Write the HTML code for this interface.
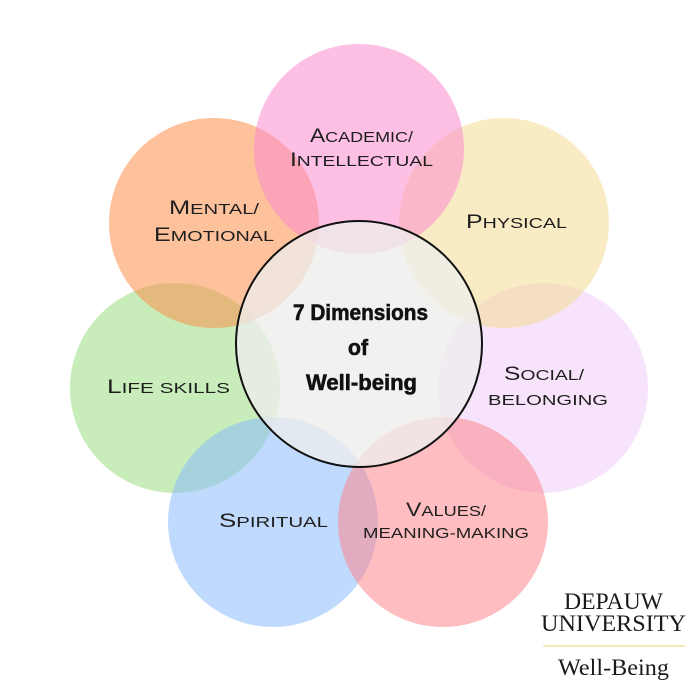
<!DOCTYPE html>
<html>
<head>
<meta charset="utf-8">
<style>
  html, body { margin:0; padding:0; background:#ffffff; }
  body { width:700px; height:700px; overflow:hidden; }
  svg { display:block; }
  .lbl { font-family:"Liberation Sans", sans-serif; fill:#1e1e1e; }
  .ctr { font-family:"Liberation Sans", sans-serif; font-weight:bold; fill:#111; stroke:#111; stroke-width:0.6; }
  .logo { font-family:"Liberation Serif", serif; fill:#1a1a1a; }
</style>
</head>
<body>
<svg width="700" height="700" viewBox="0 0 700 700" xmlns="http://www.w3.org/2000/svg">
  <rect width="700" height="700" fill="#ffffff"/>
  <!-- outer circles -->
  <circle cx="175" cy="388" r="105" fill="rgb(155,222,130)" fill-opacity="0.55"/>
  <circle cx="543" cy="388" r="105" fill="rgb(240,206,250)" fill-opacity="0.55"/>
  <circle cx="504" cy="223" r="105" fill="rgb(244,219,148)" fill-opacity="0.55"/>
  <circle cx="214" cy="223" r="105" fill="rgb(251,142,75)" fill-opacity="0.55"/>
  <circle cx="359" cy="149" r="105" fill="rgb(251,140,206)" fill-opacity="0.55"/>
  <circle cx="273" cy="522" r="105" fill="rgb(139,188,251)" fill-opacity="0.55"/>
  <circle cx="443" cy="522" r="105" fill="rgb(253,135,140)" fill-opacity="0.55"/>
  <!-- center circle -->
  <circle cx="359" cy="344" r="123" fill="rgb(237,237,236)" fill-opacity="0.78" stroke="#111" stroke-width="2"/>

  <!-- labels -->
  <text class="lbl" x="310" y="142" textLength="103" lengthAdjust="spacingAndGlyphs"><tspan font-size="19">A</tspan><tspan font-size="15">CADEMIC/</tspan></text>
  <text class="lbl" x="290" y="166" textLength="143" lengthAdjust="spacingAndGlyphs"><tspan font-size="19">I</tspan><tspan font-size="15">NTELLECTUAL</tspan></text>

  <text class="lbl" x="169" y="214" textLength="90" lengthAdjust="spacingAndGlyphs"><tspan font-size="19">M</tspan><tspan font-size="15">ENTAL/</tspan></text>
  <text class="lbl" x="154" y="241" textLength="120" lengthAdjust="spacingAndGlyphs"><tspan font-size="19">E</tspan><tspan font-size="15">MOTIONAL</tspan></text>

  <text class="lbl" x="466" y="228" textLength="101" lengthAdjust="spacingAndGlyphs"><tspan font-size="19">P</tspan><tspan font-size="15">HYSICAL</tspan></text>

  <text class="lbl" x="107" y="393" textLength="123" lengthAdjust="spacingAndGlyphs"><tspan font-size="19">L</tspan><tspan font-size="15">IFE SKILLS</tspan></text>

  <text class="lbl" x="504" y="380" textLength="80" lengthAdjust="spacingAndGlyphs"><tspan font-size="19">S</tspan><tspan font-size="15">OCIAL/</tspan></text>
  <text class="lbl" x="488" y="405" textLength="120" lengthAdjust="spacingAndGlyphs"><tspan font-size="15">BELONGING</tspan></text>

  <text class="lbl" x="219" y="527" textLength="109" lengthAdjust="spacingAndGlyphs"><tspan font-size="19">S</tspan><tspan font-size="15">PIRITUAL</tspan></text>

  <text class="lbl" x="406" y="516" textLength="80" lengthAdjust="spacingAndGlyphs"><tspan font-size="19">V</tspan><tspan font-size="15">ALUES/</tspan></text>
  <text class="lbl" x="363" y="538" textLength="166" lengthAdjust="spacingAndGlyphs"><tspan font-size="15">MEANING-MAKING</tspan></text>

  <!-- center text -->
  <text class="ctr" x="293" y="320" font-size="22" textLength="135" lengthAdjust="spacingAndGlyphs">7 Dimensions</text>
  <text class="ctr" x="348" y="355" font-size="22" textLength="20" lengthAdjust="spacingAndGlyphs">of</text>
  <text class="ctr" x="306" y="390" font-size="22" textLength="111" lengthAdjust="spacingAndGlyphs">Well-being</text>

  <!-- logo -->
  <text class="logo" x="564" y="609" font-size="23" textLength="99" lengthAdjust="spacingAndGlyphs">DEPAUW</text>
  <text class="logo" x="541" y="631" font-size="23" textLength="145" lengthAdjust="spacingAndGlyphs">UNIVERSITY</text>
  <line x1="543" y1="646" x2="685" y2="646" stroke="#f3e3a6" stroke-width="1.5"/>
  <text class="logo" x="558" y="675" font-size="23" textLength="111" lengthAdjust="spacingAndGlyphs">Well-Being</text>
</svg>
</body>
</html>
